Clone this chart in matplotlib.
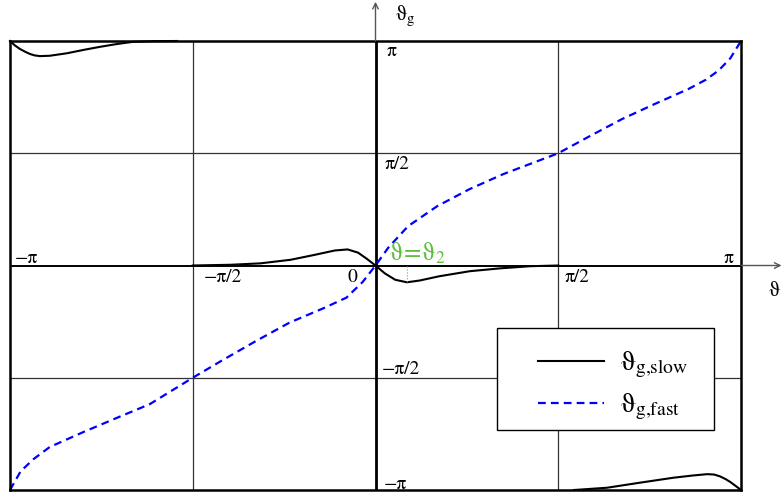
import numpy as np
import matplotlib.pyplot as plt

plt.rcParams['mathtext.fontset'] = 'custom'
plt.rcParams['mathtext.rm'] = 'STIXGeneral'
plt.rcParams['mathtext.it'] = 'STIXGeneral'
plt.rcParams['font.family'] = ['STIXGeneral', 'DejaVu Serif']

PI = np.pi

fast_x = [-PI, -3.05, -2.94, -2.80, -2.51, -2.22, -1.94, -PI/2, -1.31, -1.02, -0.74,
          -0.45, -0.25, -0.11, 0.0, 0.11, 0.28, 0.53, 0.81, 1.10, PI/2, 1.83, 2.12,
          2.40, 2.69, 2.84, 2.95, 3.05, PI]
fast_y = [-PI, -2.88, -2.71, -2.54, -2.33, -2.13, -1.94, -PI/2, -1.32, -1.05, -0.80,
          -0.60, -0.45, -0.23, 0.0, 0.25, 0.55, 0.83, 1.07, 1.28, PI/2, 1.80, 2.05,
          2.26, 2.47, 2.60, 2.73, 2.90, PI]

# slow branch (solid black), three wrapped pieces
slow_top_x = [-PI, -3.10, -3.056, -3.01, -2.97, -2.93, -2.884, -2.80, -2.652, -2.50,
              -2.368, -2.22, -2.084, -1.90, -1.706]
slow_top_y = [PI, 3.08, 3.03, 2.99, 2.96, 2.94, 2.93, 2.935, 2.97, 3.02,
              3.06, 3.10, 3.13, 3.14, PI]

slow_mid_x = [-PI/2, -1.25, -0.99, -0.73, -0.52, -0.35, -0.24, -0.15, -0.08, 0.0,
              0.08, 0.17, 0.27, 0.38, 0.55, 0.81, 1.07, 1.33, PI/2]
slow_mid_y = [0.0, 0.01, 0.03, 0.08, 0.15, 0.21, 0.225, 0.18, 0.10, 0.0,
              -0.11, -0.20, -0.235, -0.21, -0.15, -0.08, -0.04, -0.01, 0.0]

slow_bot_x = [1.706, 1.99, 2.27, 2.56, 2.72, 2.85, 2.91, 2.96, 3.01, 3.05, 3.10, PI]
slow_bot_y = [-PI, -3.11, -3.04, -2.97, -2.94, -2.92, -2.925, -2.95, -2.99, -3.03, -3.09, -PI]

theta_2 = 0.27
slow_at_theta_2 = -0.235

fig = plt.figure(figsize=(7.82, 4.95), dpi=100)
ax = fig.add_axes([10/782, 5/495, 731/782, 449/495])
ax.set_xlim(-PI, PI)
ax.set_ylim(-PI, PI)
ax.set_xticks([])
ax.set_yticks([])
for s in ax.spines.values():
    s.set_linewidth(1.8)
    s.set_color('black')

# grid at +-pi/2 and the two axes through the origin
for v in (-PI/2, PI/2):
    ax.axvline(v, color='#333333', lw=0.9)
    ax.axhline(v, color='#333333', lw=0.9)
ax.axvline(0, color='black', lw=2.0)
ax.axhline(0, color='black', lw=1.4)

# arrows sticking out of the box
ax.annotate('', xy=(0, 3.69), xytext=(0, PI), annotation_clip=False,
            arrowprops=dict(arrowstyle='->', color='#555555', lw=1.0, shrinkA=0, shrinkB=0))
ax.annotate('', xy=(3.49, 0), xytext=(PI, 0), annotation_clip=False,
            arrowprops=dict(arrowstyle='->', color='#555555', lw=1.0, shrinkA=0, shrinkB=0))

ax.plot(slow_top_x, slow_top_y, color='black', lw=1.5, clip_on=False)
ax.plot(slow_mid_x, slow_mid_y, color='black', lw=1.5)
ax.plot(slow_bot_x, slow_bot_y, color='black', lw=1.5, clip_on=False)
fast_style = dict(color='blue', lw=1.6, ls=(0, (3.5, 2.3)))
ax.plot(fast_x, fast_y, clip_on=False, **fast_style)

# equilibrium marker
green = '#5cbf3f'
ax.plot([theta_2, theta_2], [0, slow_at_theta_2], color=green, lw=0.8, ls=':')
ax.text(0.115, 0.075, r'$\vartheta\!=\!\vartheta_2$', color=green, fontsize=18,
        ha='left', va='baseline')

# tick labels written beside the axes
fs = 14
ax.text(0.10, 3.0, 'π', fontsize=fs, va='center', ha='left')
ax.text(0.08, 1.42, 'π/2', fontsize=fs, va='center', ha='left')
ax.text(0.05, -1.46, '−π/2', fontsize=fs, va='center', ha='left')
ax.text(0.07, -3.06, '−π', fontsize=fs, va='center', ha='left')
ax.text(-0.20, -0.16, '0', fontsize=fs, va='center', ha='center')
ax.text(-1.48, -0.16, '−π/2', fontsize=fs, va='center', ha='left')
ax.text(1.63, -0.16, 'π/2', fontsize=fs, va='center', ha='left')
ax.text(-3.10, 0.10, '−π', fontsize=fs, va='center', ha='left')
ax.text(2.99, 0.10, 'π', fontsize=fs, va='center', ha='left')

ax.text(0.17, 3.44, r'$\vartheta_{\mathrm{g}}$', fontsize=15, va='baseline', ha='left',
        clip_on=False)
ax.text(3.37, -0.42, r'$\vartheta$', fontsize=15, va='baseline', ha='left', clip_on=False)

# legend box drawn in axes fraction
tr = ax.transAxes
ax.add_patch(plt.Rectangle((0.6662, 0.1336), 0.9631 - 0.6662, 0.3608 - 0.1336,
                           transform=tr, facecolor='white', edgecolor='black',
                           lw=1.0, zorder=5))
ax.plot([0.7223, 0.8126], [0.2873, 0.2873], transform=tr, color='black', lw=1.5,
        zorder=6)
ax.plot([0.7223, 0.8126], [0.1938, 0.1938], transform=tr, zorder=6, **fast_style)
ax.text(0.8345, 0.267, r'$\vartheta_{\mathrm{g{,}slow}}$', transform=tr, fontsize=20,
        va='baseline', ha='left', zorder=6)
ax.text(0.8345, 0.1737, r'$\vartheta_{\mathrm{g{,}fast}}$', transform=tr, fontsize=20,
        va='baseline', ha='left', zorder=6)

fig.savefig('out.png', dpi=100)
